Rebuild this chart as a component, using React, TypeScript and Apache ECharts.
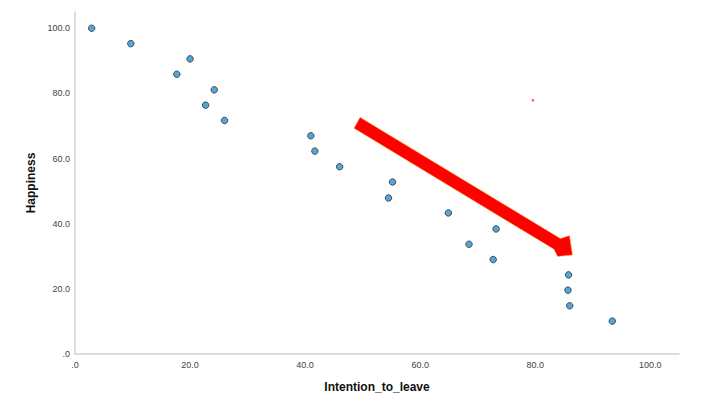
import React, { useEffect, useRef } from "react";
import * as echarts from "echarts";

const intentionToLeave = [2.9, 9.7, 20.0, 17.7, 24.2, 22.7, 26.0, 41.0, 41.7, 46.0, 55.2, 54.5, 64.9, 73.2, 68.5, 72.7, 85.8, 85.7, 86.0, 93.4];
const happiness = [100.0, 95.3, 90.6, 85.9, 81.1, 76.4, 71.7, 67.0, 62.3, 57.5, 52.8, 47.9, 43.3, 38.4, 33.7, 29.0, 24.3, 19.6, 14.8, 10.1];
const strayDot = [[79.6, 77.9]];
const xTicks = [0, 20, 40, 60, 80, 100];
const yTicks = [0, 20, 40, 60, 80, 100];

const fmt = (v: number, ticks: number[]) =>
  ticks.includes(Math.round(v * 1000) / 1000) ? (v === 0 ? ".0" : v.toFixed(1)) : "";

export default function App() {
  const ref = useRef<HTMLDivElement>(null);
  useEffect(() => {
    document.body.style.margin = "0";
    const chart = echarts.init(ref.current!, undefined, { renderer: "svg" });
    const pts = intentionToLeave.map((x, i) => [x, happiness[i]]);
    const axisLabel = { color: "#444", fontSize: 9, fontFamily: "Liberation Sans" };
    chart.setOption({
      animation: false,
      backgroundColor: "#ffffff",
      grid: { left: 75, top: 12, width: 604, height: 342, containLabel: false },
      xAxis: {
        type: "value",
        min: 0,
        max: 105,
        interval: 20,
        name: "Intention_to_leave",
        nameLocation: "middle",
        nameGap: 27,
        nameTextStyle: { fontSize: 12, fontWeight: "bold", color: "#111", fontFamily: "Liberation Sans" },
        axisLine: { show: true, lineStyle: { color: "#d2d2d2", width: 1.5 } },
        axisTick: { show: false },
        splitLine: { show: false },
        axisLabel: { ...axisLabel, margin: 6, formatter: (v: number) => fmt(v, xTicks) },
      },
      yAxis: {
        type: "value",
        min: 0,
        max: 105,
        interval: 20,
        name: "Happiness",
        nameLocation: "middle",
        nameGap: 38,
        nameTextStyle: { fontSize: 12, fontWeight: "bold", color: "#111", fontFamily: "Liberation Sans" },
        axisLine: { show: true, lineStyle: { color: "#d2d2d2", width: 1.5 } },
        axisTick: { show: false },
        splitLine: { show: false },
        axisLabel: { ...axisLabel, margin: 5, formatter: (v: number) => fmt(v, yTicks) },
      },
      series: [
        {
          type: "scatter",
          data: pts,
          symbol: "circle",
          symbolSize: 6.5,
          itemStyle: { color: "#2e8fc6", borderColor: "#1d3344", borderWidth: 1 },
        },
        {
          type: "scatter",
          data: strayDot,
          symbol: "rect",
          symbolSize: 2.5,
          itemStyle: { color: "#ff3d68" },
        },
      ],
      graphic: [
        {
          type: "polygon",
          z: 100,
          shape: {
            points: [
              [360, 117.3],
              [560.5, 238.6],
              [569.5, 235.5],
              [572.5, 255],
              [557.5, 256.5],
              [554, 249.3],
              [354, 128.3],
            ],
          },
          style: { fill: "#ff0000", stroke: "#ffc040", lineWidth: 0.5 },
        },
      ],
    });
    return () => chart.dispose();
  }, []);
  return <div ref={ref} style={{ width: 712, height: 410 }} />;
}
